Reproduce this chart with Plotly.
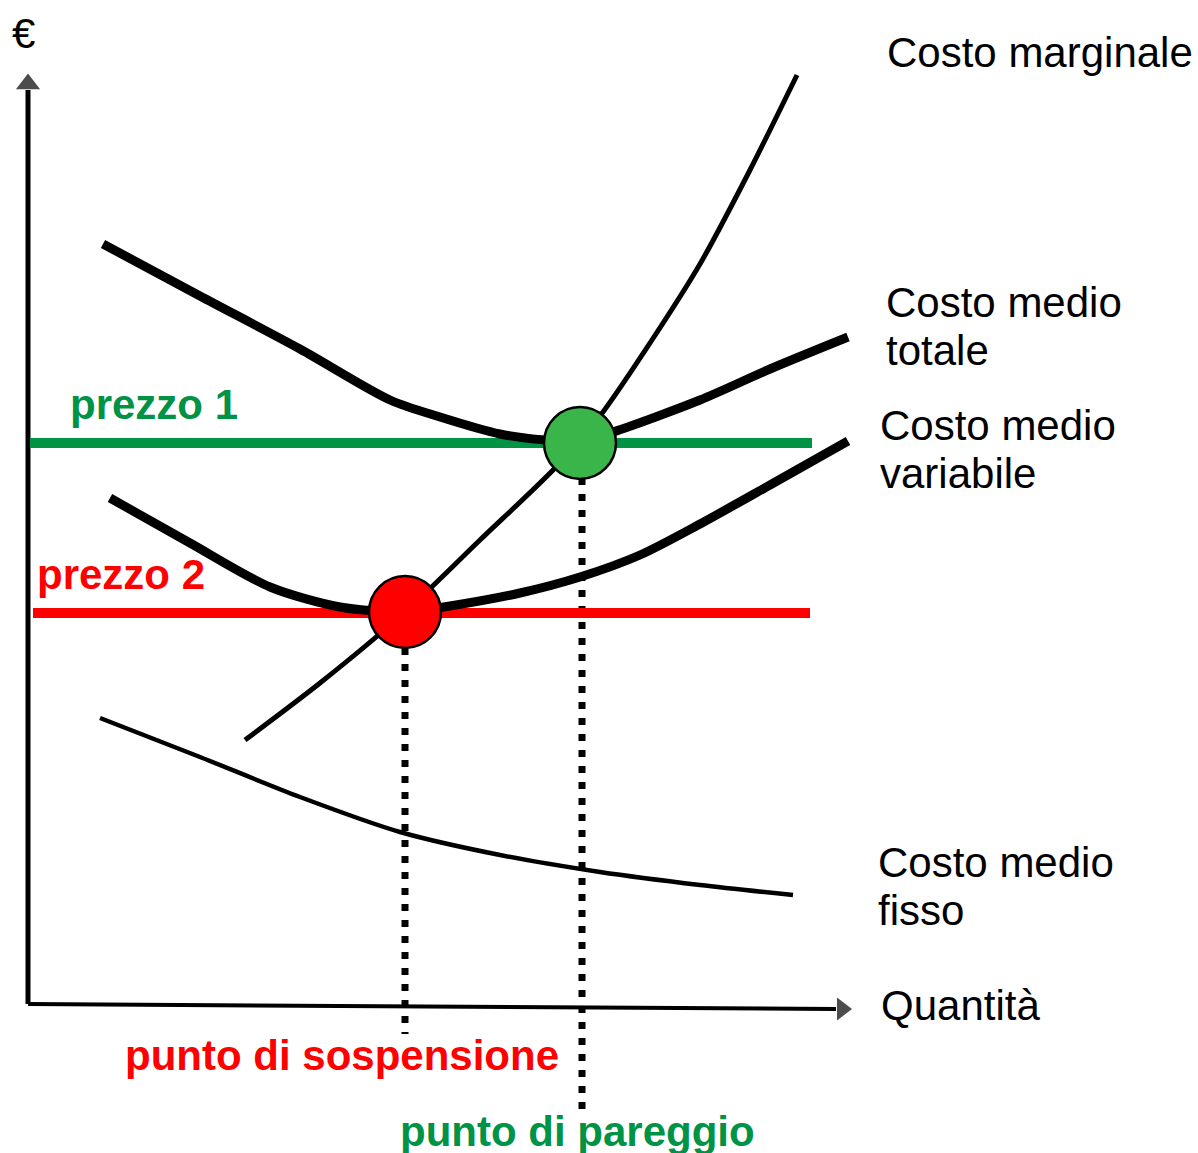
import plotly.graph_objects as go

# Coordinates in picture units (x to the right, y downwards)
cm_x = [245, 320, 405, 480, 555, 600, 650, 700, 750, 797]
cm_y = [740, 683, 612, 540, 468, 416, 343, 264, 170, 75]

ctm_x = [103, 200, 300, 390, 440, 500, 545, 580, 613, 700, 770, 848]
ctm_y = [244, 296, 349, 400, 417, 434, 440, 441, 432, 400, 369, 337]

cmv_x = [110, 190, 270, 340, 405, 450, 520, 580, 640, 700, 770, 848]
cmv_y = [498, 543, 587, 607, 612, 606, 593, 577, 555, 524, 485, 441]

cmf_x = [100, 200, 300, 400, 500, 600, 700, 793]
cmf_y = [718, 757, 797, 832, 855, 872, 885, 895]

prezzo1_x = [30, 812]
prezzo1_y = [443, 443]
prezzo2_x = [33, 810]
prezzo2_y = [613, 613]

pareggio = (580, 443)
sospensione = (405, 612)

asse_y_x = [28, 28]
asse_y_y = [1004, 90]
asse_x_x = [28, 836]
asse_x_y = [1004, 1009]

GREEN = '#009245'
GREEN_DOT = '#39b54a'
RED = '#ff0000'
FONT = 'Arial, Liberation Sans, sans-serif'

fig = go.Figure()

def line(x, y, color='black', width=4, dash=None, shape='spline'):
    fig.add_trace(go.Scatter(
        x=x, y=y, mode='lines',
        line=dict(color=color, width=width, dash=dash, shape=shape, smoothing=0.8),
        hoverinfo='skip', showlegend=False
    ))

# Axes
line(asse_y_x, asse_y_y, width=5, shape='linear')
line(asse_x_x, asse_x_y, width=4, shape='linear')
fig.add_trace(go.Scatter(
    x=[asse_y_x[0], 842], y=[84, asse_x_y[1]], mode='markers',
    marker=dict(symbol=['triangle-up', 'triangle-right'], size=[21, 20], color='black',
                line=dict(width=0)),
    hoverinfo='skip', showlegend=False
))

# Dotted guides
line([sospensione[0]] * 2, [648, 1034], width=7, dash='7px,9px', shape='linear')
line([582, 582], [478, 1116], width=7, dash='7px,9px', shape='linear')

# Price lines
line(prezzo1_x, prezzo1_y, color=GREEN, width=10, shape='linear')
line(prezzo2_x, prezzo2_y, color=RED, width=10, shape='linear')

# Cost curves
line(cmf_x, cmf_y, width=4.5)
line(cmv_x, cmv_y, width=9)
line(ctm_x, ctm_y, width=9)
line(cm_x, cm_y, width=5)

# Points
fig.add_trace(go.Scatter(
    x=[pareggio[0], sospensione[0]], y=[pareggio[1], sospensione[1]], mode='markers',
    marker=dict(size=72, color=[GREEN_DOT, RED], line=dict(color='black', width=2.5)),
    hoverinfo='skip', showlegend=False
))

labels = [
    (10, 33, '€', 'black', False),
    (885, 52, 'Costo marginale', 'black', False),
    (884, 302, 'Costo medio', 'black', False),
    (884, 350, 'totale', 'black', False),
    (878, 425, 'Costo medio', 'black', False),
    (878, 473, 'variabile', 'black', False),
    (876, 862, 'Costo medio', 'black', False),
    (876, 910, 'fisso', 'black', False),
    (879, 1005, 'Quantità', 'black', False),
    (68, 404, 'prezzo 1', GREEN, True),
    (35, 574, 'prezzo 2', RED, True),
    (123, 1055, 'punto di sospensione', RED, True),
    (398, 1131, 'punto di pareggio', GREEN, True),
]
for x, y, txt, col, bold in labels:
    fig.add_annotation(
        x=x, y=y, text=f'<b>{txt}</b>' if bold else txt,
        xanchor='left', yanchor='middle', align='left', showarrow=False,
        font=dict(family=FONT, size=42, color=col)
    )

fig.update_layout(
    width=1198, height=1153,
    margin=dict(l=0, r=0, t=0, b=0),
    plot_bgcolor='white', paper_bgcolor='white',
    xaxis=dict(range=[0, 1198], visible=False, fixedrange=True),
    yaxis=dict(range=[1153, 0], visible=False, fixedrange=True),
)

fig.write_html("out.html", config={'displayModeBar': False},
               post_script="document.body.style.margin='0';")
